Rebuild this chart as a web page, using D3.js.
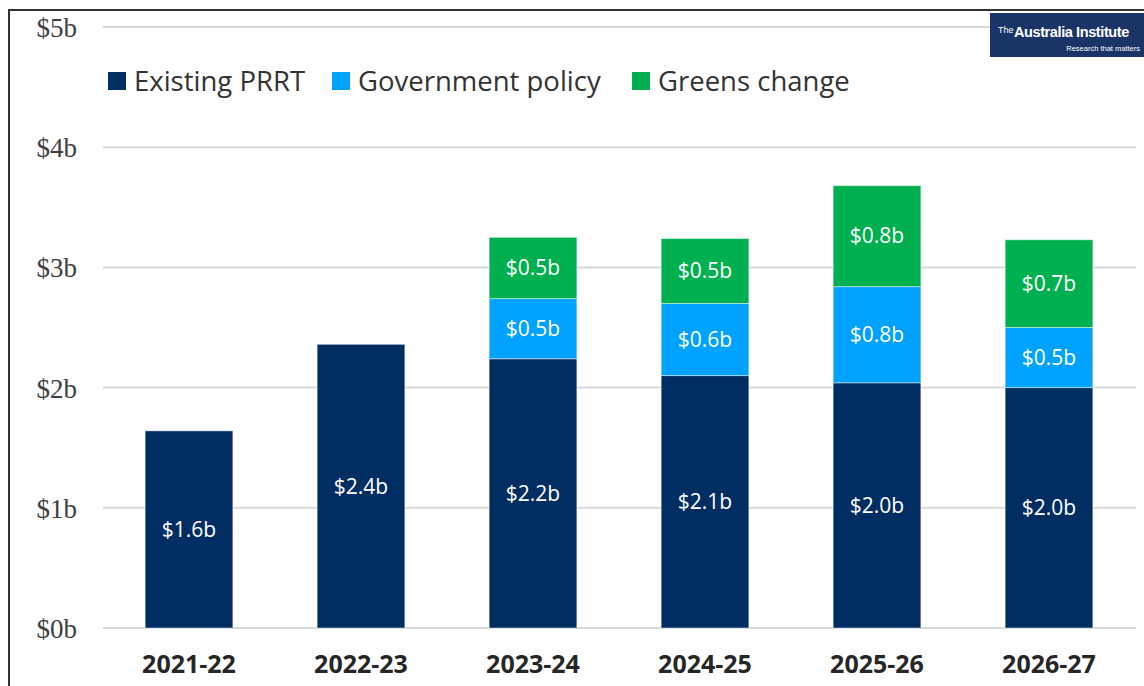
<!DOCTYPE html>
<html lang="en">
<head>
<meta charset="utf-8">
<title>PRRT revenue</title>
<script src="https://cdn.jsdelivr.net/npm/d3@7"></script>
<style>
  body { margin: 0; background: #fff; }
</style>
</head>
<body>
<svg width="1144" height="686"></svg>
<script>
// data ($ billion)
var years = ["2021-22", "2022-23", "2023-24", "2024-25", "2025-26", "2026-27"];
var existing = [1.64, 2.36, 2.24, 2.10, 2.04, 2.00];
var govPolicy = [0, 0, 0.50, 0.60, 0.80, 0.50];
var greens = [0, 0, 0.51, 0.54, 0.84, 0.73];
var seriesNames = ["Existing PRRT", "Government policy", "Greens change"];
var yTicks = [0, 1, 2, 3, 4, 5];

var colors = ["#002D62", "#00A2FF", "#00B050"];
var svg = d3.select("svg");

// frame
svg.append("path")
    .attr("d", "M9,686 V10 H1144")
    .attr("fill", "none")
    .attr("stroke", "#333")
    .attr("stroke-width", 2);

var x = d3.scaleBand().domain(years).range([103, 1135]).paddingInner(0.49).paddingOuter(0.245);
var y = d3.scaleLinear().domain([0, 5]).range([628, 27]);

// grid
var yAxis = d3.axisLeft(y).tickValues(yTicks).tickSize(0).tickFormat(function(d) { return "$" + d + "b"; });
var gy = svg.append("g").attr("transform", "translate(77,0)").call(yAxis);
gy.select(".domain").remove();
gy.selectAll("text")
    .attr("x", 0)
    .attr("dy", "0.35em")
    .attr("fill", "#404040")
    .style("font-family", "'Liberation Serif', serif")
    .style("font-size", "27px");

svg.append("g").selectAll("line")
    .data(yTicks)
    .enter().append("line")
    .attr("x1", 103).attr("x2", 1136)
    .attr("y1", function(d) { return y(d); })
    .attr("y2", function(d) { return y(d); })
    .attr("stroke", "#d9d9d9")
    .attr("stroke-width", 2);

// stacked bars
var rows = years.map(function(yr, i) {
    return { year: yr, s0: existing[i], s1: govPolicy[i], s2: greens[i] };
});
var stack = d3.stack().keys(["s0", "s1", "s2"])(rows);

var layers = svg.append("g").selectAll("g")
    .data(stack)
    .enter().append("g")
    .attr("fill", function(d, i) { return colors[i]; });

layers.selectAll("rect")
    .data(function(d) { return d.filter(function(p) { return p[1] - p[0] > 0; }); })
    .enter().append("rect")
    .attr("x", function(d) { return x(d.data.year); })
    .attr("width", x.bandwidth())
    .attr("y", function(d) { return y(d[1]); })
    .attr("height", function(d) { return y(d[0]) - y(d[1]); })
    .attr("stroke", "rgba(255,255,255,0.45)")
    .attr("stroke-width", 1);

layers.selectAll("text")
    .data(function(d) { return d.filter(function(p) { return p[1] - p[0] > 0; }); })
    .enter().append("text")
    .attr("x", function(d) { return x(d.data.year) + x.bandwidth() / 2; })
    .attr("y", function(d) { return y((d[0] + d[1]) / 2); })
    .attr("dy", "0.35em")
    .attr("text-anchor", "middle")
    .attr("fill", "#fff")
    .style("font-family", "'Open Sans', sans-serif")
    .style("font-size", "21px")
    .text(function(d) { return "$" + (d[1] - d[0]).toFixed(1) + "b"; });

// x axis labels
var xAxis = d3.axisBottom(x).tickSize(0);
var gx = svg.append("g").attr("transform", "translate(0,628)").call(xAxis);
gx.select(".domain").remove();
gx.selectAll("text")
    .attr("y", 0)
    .attr("dy", "1.8em")
    .attr("fill", "#262626")
    .style("font-family", "'Open Sans', sans-serif")
    .style("font-weight", "bold")
    .style("font-size", "25px");

// legend
var legendX = [108, 332, 632];
var leg = svg.append("g").selectAll("g")
    .data(seriesNames)
    .enter().append("g")
    .attr("transform", function(d, i) { return "translate(" + legendX[i] + ",72)"; });
leg.append("rect").attr("width", 18).attr("height", 18).attr("fill", function(d, i) { return colors[i]; });
leg.append("text")
    .attr("x", 26).attr("y", 9).attr("dy", "0.36em")
    .attr("fill", "#333")
    .style("font-family", "'Open Sans', sans-serif")
    .style("font-size", "27.5px")
    .text(function(d) { return d; });

// logo
var logo = svg.append("g").attr("transform", "translate(990,13)");
logo.append("rect").attr("width", 154).attr("height", 44).attr("fill", "#1B3468");
logo.append("text").attr("x", 8).attr("y", 20).attr("fill", "#fff")
    .style("font-family", "'Liberation Sans', sans-serif")
    .style("font-size", "9px").text("The");
logo.append("text").attr("x", 24).attr("y", 24).attr("fill", "#fff")
    .style("font-family", "'Liberation Sans', sans-serif")
    .style("font-weight", "bold").style("letter-spacing", "-0.4px")
    .style("font-size", "14.5px").text("Australia Institute");
logo.append("text").attr("x", 150).attr("y", 38).attr("fill", "#fff")
    .attr("text-anchor", "end")
    .style("font-family", "'Liberation Sans', sans-serif")
    .style("font-size", "7.5px").text("Research that matters");
</script>
</body>
</html>
